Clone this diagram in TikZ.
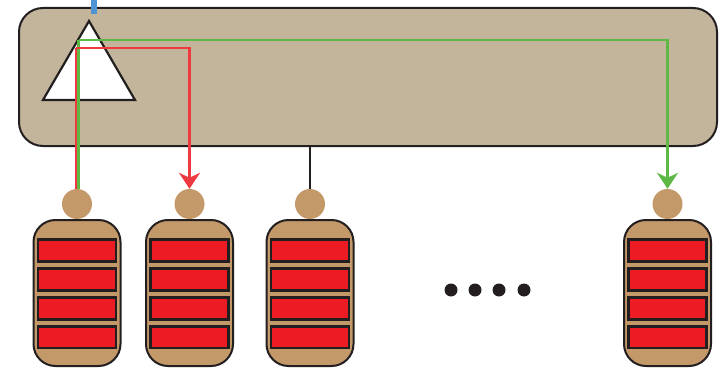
\documentclass[tikz,border=0pt]{standalone}
\usetikzlibrary{arrows.meta}
\definecolor{boxtan}{HTML}{C2B59B}
\definecolor{bodybrown}{HTML}{C4996A}
\definecolor{barred}{HTML}{ED1C24}
\definecolor{lnred}{HTML}{EE3A3F}
\definecolor{lngreen}{HTML}{5DB846}
\definecolor{outl}{HTML}{231F20}
\definecolor{bluebar}{HTML}{4F95D3}
\tikzset{
  mainbox/.style={draw=outl, line width=2pt, fill=boxtan, rounded corners=24pt},
  bodybox/.style={draw=outl, line width=2pt, fill=bodybrown, rounded corners=22pt, minimum width=87pt, minimum height=146pt, inner sep=0pt},
  headnode/.style={circle, fill=bodybrown, minimum size=30pt, inner sep=0pt},
  barbox/.style={draw=outl, line width=2.6pt, fill=barred, minimum width=78pt, minimum height=21.5pt, inner sep=0pt},
  dotnode/.style={circle, fill=outl, minimum size=13pt, inner sep=0pt},
  redln/.style={draw=lnred, line width=2.5pt},
  greenln/.style={draw=lngreen, line width=2.5pt},
  tip/.style={-{Stealth[length=16pt,width=21pt,inset=5pt]}},
}
\begin{document}
\begin{tikzpicture}[x=1pt,y=-1pt]
\useasboundingbox (0,0) rectangle (721,369);
% main box
\node[mainbox, minimum width=698pt, minimum height=138pt, inner sep=0pt, anchor=north west] (box) at (18,7) {};
% blue bar
\fill[bluebar] (91,0) rectangle (97,14);
\coordinate (bluetop) at (94,0);
% triangle
\draw[draw=outl, line width=2.2pt, fill=white, line join=miter] (89,21) -- (135,100) -- (43,100) -- cycle;
% bodies and heads
\foreach \n/\x in {1/77, 2/189.5, 3/310, 4/667.5}{
  \node[bodybox] (body\n) at (\x,293) {};
  \node[headnode] (head\n) at (\x,204) {};
  \foreach \m/\y in {1/250.5, 2/279.5, 3/308.5, 4/337.2}{
    \node[barbox] (bar\n\m) at (\x,\y) {};
  }
}
% dots
\foreach \n/\x in {1/451, 2/475, 3/499, 4/524}{
  \node[dotnode] (dot\n) at (\x,290) {};
}
% connectors
\coordinate (rs) at (76,48);
\coordinate (gs) at (78.5,40);
\draw[redln] (rs) -- (rs |- head1.north);
\draw[greenln] (gs) -- (gs |- head1.north);
\draw[redln, tip] (rs) -| (head2.north);
\draw[greenln, tip] (gs) -| (head4.north);
\draw[draw=outl, line width=2.5pt] (head3.north) -- (head3.north |- box.south);
\end{tikzpicture}
\end{document}
